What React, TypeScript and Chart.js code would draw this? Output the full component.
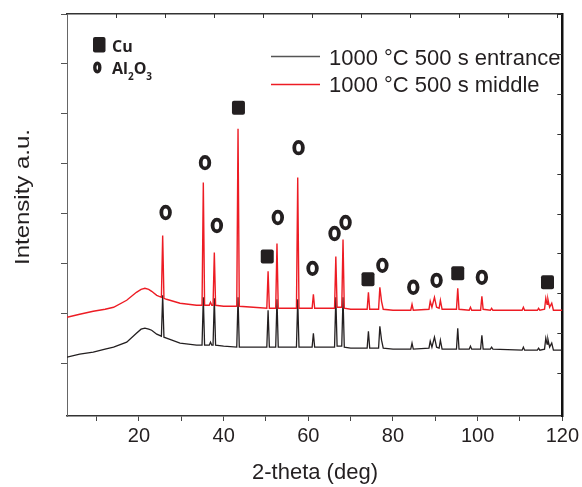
import React, { useEffect, useRef } from "react";
import { Chart, registerables } from "chart.js";
Chart.register(...registerables);

// 2-theta sample positions (deg) shared by both patterns
const theta = [
  3, 6, 9.2, 12, 14, 17.1, 19.4, 20.5, 21.4, 22.3, 23.0, 24.2,
  25.3, 25.6, 25.9, 26.5, 29.7, 33.6, 34.9, 35.2, 35.5, 36.6,
  36.9, 37.2, 37.5, 37.8, 38.1, 40, 43.1, 43.4, 43.7, 47,
  50.2, 50.5, 50.8, 52.3, 52.6, 52.9, 57.2, 57.5, 57.8, 60.9,
  61.2, 61.5, 66.2, 66.5, 66.8, 67.9, 68.2, 68.5, 70, 73.9,
  74.2, 74.5, 76.6, 76.9, 77.3, 77.7, 80, 84.2, 84.5, 84.8,
  88.5, 88.8, 89.2, 89.8, 90.3, 90.9, 91.2, 91.6, 95.0, 95.3,
  95.6, 98.0, 98.3, 98.6, 100.7, 101.0, 101.3, 103.0, 103.3, 103.6,
  110.5, 110.8, 111.1, 114.1, 114.4, 114.7, 115.8, 116.1, 116.4,
  116.6, 117.0, 117.5, 117.9, 120,
];

// 1000 °C 500 s middle (red)
const middle = [
  96, 99, 102, 104, 106, 113, 121, 124, 125, 124, 122, 118,
  116, 178, 115, 114, 110, 108, 108, 231, 108, 108,
  111, 108, 108, 161, 108, 107, 107, 285, 107, 106,
  105, 142, 105, 105, 170, 105, 105, 236, 105, 105,
  119, 105, 105, 157, 106, 106, 174, 105, 104, 104,
  121, 104, 104, 126, 112, 104, 103, 103, 109, 103,
  104, 112, 106, 116, 106, 105, 113, 104, 104, 125,
  104, 103, 106, 103, 103, 117, 104, 103, 105, 103,
  103, 106, 103, 103, 105, 103, 104, 115, 109,
  114, 106, 110, 103, 103,
];

// 1000 °C 500 s entrance (black)
const entrance = [
  56, 59, 61, 64, 66, 71, 80, 84, 85, 84, 83, 79,
  77, 118, 76, 75, 70, 68, 68, 116, 68, 68,
  71, 68, 68, 115, 68, 67, 66, 116, 66, 66,
  66, 103, 66, 66, 114, 66, 66, 114, 66, 66,
  80, 66, 66, 116, 67, 67, 116, 66, 65, 65,
  82, 65, 65, 87, 73, 65, 64, 64, 70, 64,
  65, 72, 66, 76, 66, 65, 73, 64, 64, 85,
  64, 64, 67, 64, 64, 78, 64, 64, 66, 64,
  63, 66, 63, 63, 65, 63, 64, 75, 69,
  74, 66, 70, 63, 63,
];

// phase markers
const cuTheta = [43.5, 50.3, 74.1, 95.3, 116.5];
const cuLevel = [306, 157, 134, 140, 131];
const alTheta = [26.3, 35.6, 38.4, 52.8, 57.7, 61.0, 66.2, 68.8, 77.5, 84.8, 90.3, 101.0];
const alLevel = [201, 251, 188, 196, 266, 145, 180, 191, 148, 126, 133, 136];

// ticks
const xTicks = [10, 20, 30, 40, 50, 60, 70, 80, 90, 100, 110, 120];
const yLeftTicks = [50, 100, 150, 200, 250, 300, 350, 400];
const yRightTicks = [40, 80, 120, 160, 200, 240, 280, 320, 360, 400];
const topTicks = [1, 2, 3, 4, 5, 6, 7, 8, 9, 10];

const seriesNames = ["1000 °C 500 s entrance", "1000 °C 500 s middle"];
const RED = "#ed1c24";
const DARK = "#231f20";
const SANS = "'Liberation Sans', Arial, sans-serif";
const BOLD = "'Open Sans', 'Noto Sans', sans-serif";

function roundRect(ctx: CanvasRenderingContext2D, x: number, y: number, w: number, h: number, r: number) {
  ctx.beginPath();
  ctx.moveTo(x + r, y);
  ctx.lineTo(x + w - r, y);
  ctx.quadraticCurveTo(x + w, y, x + w, y + r);
  ctx.lineTo(x + w, y + h - r);
  ctx.quadraticCurveTo(x + w, y + h, x + w - r, y + h);
  ctx.lineTo(x + r, y + h);
  ctx.quadraticCurveTo(x, y + h, x, y + h - r);
  ctx.lineTo(x, y + r);
  ctx.quadraticCurveTo(x, y, x + r, y);
  ctx.closePath();
}

const decor = {
  id: "decor",
  afterDraw(chart: any) {
    const ctx: CanvasRenderingContext2D = chart.ctx;
    const { x, y, x2, y2 } = chart.scales;
    const area = chart.chartArea;
    ctx.save();
    // inside ticks on top & right
    ctx.strokeStyle = "#333";
    ctx.lineWidth = 1;
    for (const t of topTicks) {
      const px = Math.round(x2.getPixelForValue(t)) + 0.5;
      ctx.beginPath();
      ctx.moveTo(px, area.top);
      ctx.lineTo(px, area.top + 4);
      ctx.stroke();
    }
    for (const t of yRightTicks) {
      const py = Math.round(y2.getPixelForValue(t)) + 0.5;
      ctx.beginPath();
      ctx.moveTo(area.right, py);
      ctx.lineTo(area.right - 5, py);
      ctx.stroke();
    }
    // Cu markers
    ctx.fillStyle = DARK;
    cuTheta.forEach((t, i) => {
      const px = x.getPixelForValue(t);
      const py = y.getPixelForValue(cuLevel[i]);
      roundRect(ctx, px - 6.5, py - 7, 13, 14, 2);
      ctx.fill();
    });
    // Al2O3 markers
    ctx.strokeStyle = DARK;
    ctx.lineWidth = 3.8;
    alTheta.forEach((t, i) => {
      const px = x.getPixelForValue(t);
      const py = y.getPixelForValue(alLevel[i]);
      ctx.beginPath();
      ctx.ellipse(px, py, 4.3, 5.8, 0, 0, Math.PI * 2);
      ctx.stroke();
    });
    // phase legend
    roundRect(ctx, 93, 37, 12.5, 15.5, 2);
    ctx.fill();
    ctx.lineWidth = 3.4;
    ctx.beginPath();
    ctx.ellipse(97.3, 67.5, 2.5, 4.4, 0, 0, Math.PI * 2);
    ctx.stroke();
    ctx.textBaseline = "alphabetic";
    ctx.textAlign = "left";
    ctx.font = `bold 16px ${BOLD}`;
    ctx.fillText("Cu", 112, 52);
    ctx.fillText("Al", 112, 74);
    const w = ctx.measureText("Al").width;
    ctx.font = `bold 10px ${BOLD}`;
    ctx.fillText("2", 112 + w, 80);
    const w2 = ctx.measureText("2").width;
    ctx.font = `bold 16px ${BOLD}`;
    ctx.fillText("O", 112 + w + w2, 74);
    const w3 = ctx.measureText("O").width;
    ctx.font = `bold 10px ${BOLD}`;
    ctx.fillText("3", 112 + w + w2 + w3, 80);
    // series legend
    ctx.lineWidth = 1.3;
    ctx.strokeStyle = "#555";
    ctx.beginPath();
    ctx.moveTo(271, 56.5);
    ctx.lineTo(320, 56.5);
    ctx.stroke();
    ctx.strokeStyle = RED;
    ctx.beginPath();
    ctx.moveTo(271, 84.5);
    ctx.lineTo(320, 84.5);
    ctx.stroke();
    ctx.fillStyle = DARK;
    ctx.font = `22px ${SANS}`;
    ctx.fillText(seriesNames[0], 329, 65);
    ctx.fillText(seriesNames[1], 329, 92);
    // axis titles
    ctx.textAlign = "center";
    ctx.textBaseline = "middle";
    ctx.font = `22px ${SANS}`;
    ctx.fillText("2-theta (deg)", 315, 473);
    ctx.save();
    ctx.translate(23, 197);
    ctx.rotate(-Math.PI / 2);
    ctx.scale(1.2, 1);
    ctx.font = `20px ${SANS}`;
    ctx.fillText("Intensity a.u.", 0, 0);
    ctx.restore();
    ctx.restore();
  },
};

export default function App() {
  const ref = useRef<HTMLCanvasElement>(null);
  useEffect(() => {
    if (!ref.current) return;
    const chart = new Chart(ref.current, {
      type: "line",
      data: {
        datasets: [
          {
            label: seriesNames[1],
            data: theta.map((t, i) => ({ x: t, y: middle[i] })),
            borderColor: RED,
            borderWidth: 1.4,
            pointRadius: 0,
            tension: 0,
            order: 0,
            xAxisID: "x",
            yAxisID: "y",
          },
          {
            label: seriesNames[0],
            data: theta.map((t, i) => ({ x: t, y: entrance[i] })),
            borderColor: DARK,
            borderWidth: 1.3,
            pointRadius: 0,
            tension: 0,
            order: 1,
            xAxisID: "x",
            yAxisID: "y",
          },
        ],
      },
      options: {
        animation: false,
        responsive: false,
        devicePixelRatio: 1,
        layout: { padding: 0 },
        plugins: { legend: { display: false }, tooltip: { enabled: false }, title: { display: false } },
        scales: {
          x: {
            type: "linear",
            position: "bottom",
            min: 3,
            max: 120,
            afterBuildTicks: (s: any) => {
              s.ticks = xTicks.map((v) => ({ value: v }));
            },
            afterFit: (s: any) => {
              s.height = 71;
            },
            ticks: {
              autoSkip: false,
              maxRotation: 0,
              padding: 3,
              color: DARK,
              font: { family: SANS, size: 20 },
              callback: (v: any) => (Number(v) % 20 === 0 ? String(v) : ""),
            },
            grid: { display: true, drawOnChartArea: false, drawTicks: true, tickLength: 5, color: "#444", lineWidth: 1 },
            border: { display: true, color: "#333", width: 1.5 },
          },
          x2: {
            type: "linear",
            position: "top",
            min: 0,
            max: 10.1,
            afterBuildTicks: (s: any) => {
              s.ticks = topTicks.map((v) => ({ value: v }));
            },
            afterFit: (s: any) => {
              s.height = 14;
            },
            ticks: { display: false },
            grid: { display: false },
            border: { display: true, color: "#333", width: 1.5 },
          },
          y: {
            type: "linear",
            position: "left",
            min: -3,
            max: 400,
            afterBuildTicks: (s: any) => {
              s.ticks = yLeftTicks.map((v) => ({ value: v }));
            },
            afterFit: (s: any) => {
              s.width = 67;
            },
            ticks: { display: false },
            grid: { display: true, drawOnChartArea: false, drawTicks: true, tickLength: 6, color: "#555", lineWidth: 1 },
            border: { display: true, color: "#666", width: 1 },
          },
          y2: {
            type: "linear",
            position: "right",
            min: -3,
            max: 400,
            afterBuildTicks: (s: any) => {
              s.ticks = yRightTicks.map((v) => ({ value: v }));
            },
            afterFit: (s: any) => {
              s.width = 19;
            },
            ticks: { display: false },
            grid: { display: false },
            border: { display: true, color: "#111", width: 2.5 },
          },
        },
      },
      plugins: [decor],
    });
    return () => chart.destroy();
  }, []);
  return (
    <div style={{ position: "absolute", left: 0, top: 0, width: 582, height: 487, background: "#fff" }}>
      <canvas ref={ref} width={582} height={487} />
    </div>
  );
}
